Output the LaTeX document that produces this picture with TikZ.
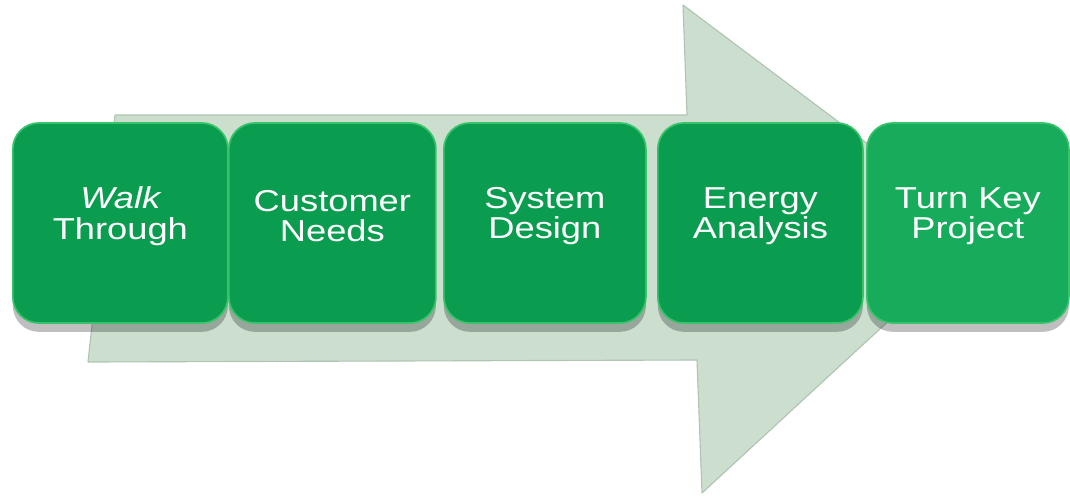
\documentclass[tikz,border=0pt]{standalone}
\usepackage{fontspec}
\usepackage{xcolor}
\usepackage{tikz}
\usetikzlibrary{shadows}
\usetikzlibrary{positioning}
\newfontfamily\stepfont[FakeStretch=1.2]{Liberation Sans}

\definecolor{arrowfill}{HTML}{CCDFCF}
\definecolor{arrowedge}{HTML}{AFC4B3}
\definecolor{boxgreen}{HTML}{0B9D4F}
\definecolor{boxlight}{HTML}{17AC5B}
\definecolor{boxrim}{HTML}{38C36A}

\begin{document}
\begin{tikzpicture}[
	x=0.025cm, y=-0.025cm,
	thick,
	font=\stepfont\fontsize{21.5}{21.5}\selectfont
]
\tikzset{
    stepbox/.style = {rectangle, rounded corners=0.65cm, draw=boxrim, line width=1.2pt, anchor=west,
        fill=boxgreen, minimum height=5cm,
        drop shadow={shadow xshift=0cm, shadow yshift=-0.22cm, opacity=0.25, fill=black}},
    steptext/.style = {align=center, text=white}
}
\useasboundingbox (0,0) rectangle (1070,496);
% big arrow behind the steps
\filldraw[fill=arrowfill, draw=arrowedge, line width=0.8pt, line join=round]
    (115,115) -- (687,115) -- (683,5) -- (985,232) -- (702,493) -- (697,360) -- (88,362) -- cycle;
% the five steps
\node[stepbox,minimum width=5.375cm] (walk) at (12,223) {};
\node[stepbox,minimum width=5.175cm] (needs) at (228,223) {};
\node[stepbox,minimum width=5.05cm] (design) at (443,223) {};
\node[stepbox,minimum width=5.125cm] (energy) at (657,223) {};
\node[stepbox,minimum width=5.05cm,fill=boxlight] (turnkey) at (866,223) {};
\node[steptext] at ([yshift=0.17cm]walk.center) {\itshape Walk\\Through};
\node[steptext] at ([yshift=0.17cm]needs.center) {Customer\\Needs};
\node[steptext] at ([yshift=0.17cm]design.center) {System\\Design};
\node[steptext] at ([yshift=0.17cm]energy.center) {Energy\\Analysis};
\node[steptext] at ([yshift=0.17cm]turnkey.center) {Turn Key\\Project};
\end{tikzpicture}
\end{document}
